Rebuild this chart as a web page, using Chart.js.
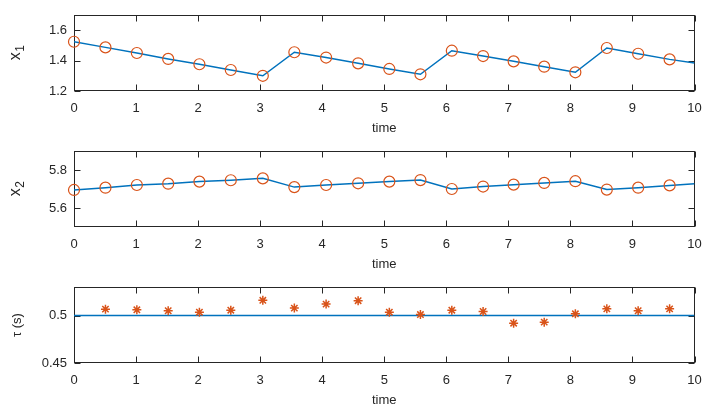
<!DOCTYPE html>
<html><head><meta charset="utf-8">
<script src="https://cdn.jsdelivr.net/npm/chart.js@4"></script>
<style>
html,body{margin:0;padding:0;background:#fff;}
#wrap{position:relative;width:709px;height:408px;overflow:hidden;}
.p{position:absolute;left:0;width:709px;height:136px;}
</style></head><body>
<div id="wrap">
<div class="p" style="top:0"><canvas id="c1"></canvas></div>
<div class="p" style="top:136px"><canvas id="c2"></canvas></div>
<div class="p" style="top:272px"><canvas id="c3"></canvas></div>
</div>
<script>
// ---- data ----
const timeTicks = [0,1,2,3,4,5,6,7,8,9,10];
const eventTimes = [0, 0.507, 1.013, 1.518, 2.021, 2.527, 3.043, 3.551, 4.063, 4.579, 5.082, 5.583, 6.089, 6.593, 7.085, 7.578, 8.080, 8.587, 9.092, 9.599];
const x1Values = [1.524, 1.487, 1.450, 1.411, 1.376, 1.338, 1.300, 1.455, 1.420, 1.382, 1.345, 1.310, 1.465, 1.430, 1.395, 1.360, 1.323, 1.483, 1.445, 1.408];
const x2Values = [5.695, 5.707, 5.721, 5.728, 5.739, 5.746, 5.756, 5.710, 5.721, 5.730, 5.739, 5.747, 5.700, 5.713, 5.723, 5.732, 5.741, 5.697, 5.707, 5.719];
const endTime = 10;
const x1End = 1.384;
const x2End = 5.728;
const tauTimes = [0.507, 1.013, 1.518, 2.021, 2.527, 3.043, 3.551, 4.063, 4.579, 5.082, 5.583, 6.089, 6.593, 7.085, 7.578, 8.080, 8.587, 9.092, 9.599];
const tauValues = [0.5067, 0.5060, 0.5050, 0.5035, 0.5056, 0.5160, 0.5078, 0.5120, 0.5156, 0.5035, 0.5010, 0.5056, 0.5042, 0.4919, 0.4930, 0.5018, 0.5070, 0.5050, 0.5070];
const tauRef = 0.5;
const x1Ticks = [1.2, 1.4, 1.6];
const x2Ticks = [5.6, 5.8];
const tauTicks = [0.45, 0.5];
const x1Range = [1.2, 1.7];
const x2Range = [5.5, 5.9];
const tauRange = [0.45, 0.53];

// ---- style ----
const BLUE = '#0072BD', ORANGE = '#D95319', INK = '#262626';
const FONT = 'Liberation Sans, Arial, Helvetica, sans-serif';

const framePlugin = {
  id: 'frame',
  beforeDatasetsDraw(chart) {
    const {ctx, chartArea: a, scales: {x, y}} = chart;
    ctx.save();
    ctx.strokeStyle = INK; ctx.lineWidth = 1;
    const L = Math.round(a.left) + 0.5, R = Math.round(a.right) - 0.5;
    const T = Math.round(a.top) + 0.5, B = Math.round(a.bottom) - 0.5;
    ctx.strokeRect(L, T, R - L, B - T);
    ctx.beginPath();
    x.ticks.forEach(t => {
      const px = Math.round(x.getPixelForValue(t.value)) + 0.5;
      ctx.moveTo(px, B); ctx.lineTo(px, B - 6);
      ctx.moveTo(px, T); ctx.lineTo(px, T + 6);
    });
    y.ticks.forEach(t => {
      const py = Math.round(y.getPixelForValue(t.value)) + 0.5;
      ctx.moveTo(L, py); ctx.lineTo(L + 6, py);
      ctx.moveTo(R, py); ctx.lineTo(R - 6, py);
    });
    ctx.stroke();
    ctx.restore();
  }
};

// y-axis label with a true subscript, drawn rotated
const yLabelPlugin = {
  id: 'ylabel',
  afterDraw(chart, args, opts) {
    const {ctx, chartArea: a} = chart;
    const cy = (a.top + a.bottom) / 2;
    ctx.save();
    ctx.translate(opts.x, cy);
    ctx.rotate(-Math.PI / 2);
    ctx.fillStyle = INK;
    ctx.textBaseline = 'alphabetic';
    ctx.font = opts.size + 'px ' + FONT;
    const w1 = ctx.measureText(opts.main).width;
    let w2 = 0;
    if (opts.sub) {
      ctx.font = opts.subSize + 'px ' + FONT;
      w2 = ctx.measureText(opts.sub).width;
    }
    const start = -(w1 + w2) / 2;
    ctx.font = opts.size + 'px ' + FONT;
    ctx.fillText(opts.main, start, opts.base);
    if (opts.sub) {
      ctx.font = opts.subSize + 'px ' + FONT;
      ctx.fillText(opts.sub, start + w1 + 0.5, opts.base + opts.subShift);
    }
    ctx.restore();
  }
};

function makeOptions(range, yTicks, label) {
  return {
    responsive: true, maintainAspectRatio: false, animation: false,
    layout: {padding: {top: 15, right: 14.5, left: 0, bottom: 0}},
    plugins: {legend: {display: false}, tooltip: {enabled: false}, ylabel: label},
    scales: {
      x: {
        type: 'linear', min: 0, max: 10,
        afterBuildTicks: s => { s.ticks = timeTicks.map(v => ({value: v})); },
        afterFit: s => { s.height = 45; s.paddingRight = 0; s.paddingLeft = 0; },
        grid: {display: false, drawTicks: false},
        border: {display: false},
        ticks: {color: INK, font: {family: FONT, size: 13}, padding: 10, maxRotation: 0, autoSkip: false},
        title: {display: true, text: 'time', color: INK, font: {family: FONT, size: 13}, padding: {top: 0, bottom: 0}}
      },
      y: {
        type: 'linear', min: range[0], max: range[1],
        afterBuildTicks: s => { s.ticks = yTicks.map(v => ({value: v})); },
        afterFit: s => { s.width = 74; },
        grid: {display: false, drawTicks: false},
        border: {display: false},
        ticks: {color: INK, font: {family: FONT, size: 13}, padding: 7, autoSkip: false,
                callback: v => String(v)},
        title: {display: false}
      }
    }
  };
}

function pts(xs, ys) { return xs.map((t, i) => ({x: t, y: ys[i]})); }

new Chart(document.getElementById('c1'), {
  type: 'scatter',
  data: {datasets: [
    {data: pts(eventTimes, x1Values), pointStyle: 'circle', pointRadius: 5.5, borderColor: ORANGE,
     backgroundColor: 'rgba(0,0,0,0)', borderWidth: 1.2, showLine: false, clip: false},
    {data: pts(eventTimes.concat([endTime]), x1Values.concat([x1End])), showLine: true, pointRadius: 0,
     borderColor: BLUE, borderWidth: 1.5, tension: 0}
  ]},
  options: makeOptions(x1Range, x1Ticks, {x: 20, main: 'x', sub: '1', size: 16, subSize: 12, subShift: 4, base: 0}),
  plugins: [framePlugin, yLabelPlugin]
});

new Chart(document.getElementById('c2'), {
  type: 'scatter',
  data: {datasets: [
    {data: pts(eventTimes, x2Values), pointStyle: 'circle', pointRadius: 5.5, borderColor: ORANGE,
     backgroundColor: 'rgba(0,0,0,0)', borderWidth: 1.2, showLine: false, clip: false},
    {data: pts(eventTimes.concat([endTime]), x2Values.concat([x2End])), showLine: true, pointRadius: 0,
     borderColor: BLUE, borderWidth: 1.5, tension: 0}
  ]},
  options: makeOptions(x2Range, x2Ticks, {x: 20, main: 'x', sub: '2', size: 16, subSize: 12, subShift: 4, base: 0}),
  plugins: [framePlugin, yLabelPlugin]
});

new Chart(document.getElementById('c3'), {
  type: 'scatter',
  data: {datasets: [
    {data: pts(tauTimes, tauValues), pointStyle: 'star', pointRadius: 4.5, borderColor: ORANGE,
     backgroundColor: ORANGE, borderWidth: 1.5, showLine: false, clip: false},
    {data: pts([0, endTime], [tauRef, tauRef]), showLine: true, pointRadius: 0,
     borderColor: BLUE, borderWidth: 1.5, tension: 0}
  ]},
  options: makeOptions(tauRange, tauTicks, {x: 21, main: '\u03C4 (s)', sub: '', size: 13, subSize: 10, subShift: 0, base: 0}),
  plugins: [framePlugin, yLabelPlugin]
});
</script>
</body></html>
